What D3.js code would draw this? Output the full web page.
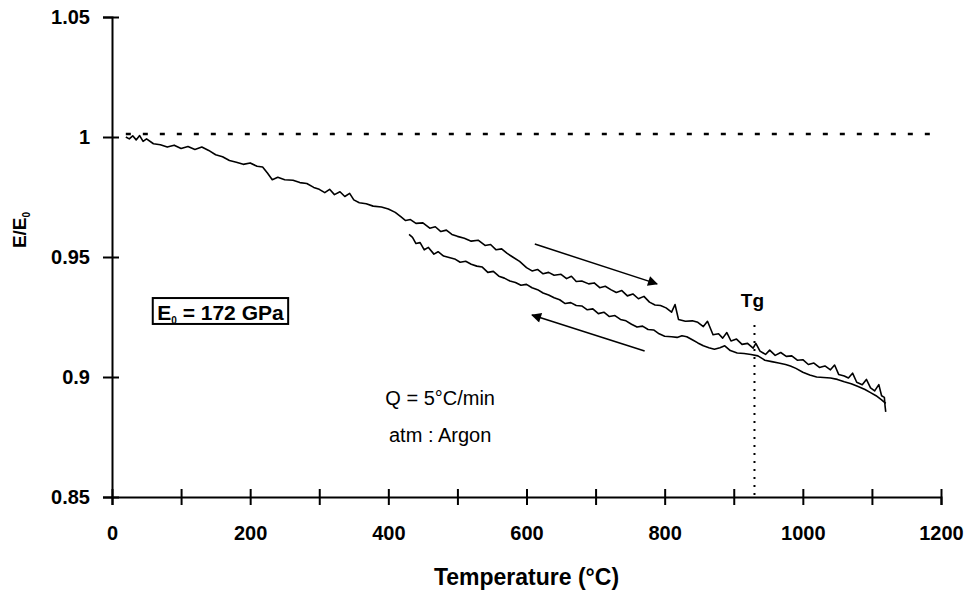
<!doctype html>
<html>

<head>
  <meta charset="utf-8">
  <title>E/E0 vs temperature</title>
  <style>
    body { margin: 0; background: #fff; }
    text { font-family: "Liberation Sans", Arial, sans-serif; }
  </style>
</head>

<body>
  <svg width="974" height="591"></svg>

  <script src="https://d3js.org/d3.v7.min.js"></script>
  <script>
    // heating run (T in °C, E/E0)
    const heating = [
      [20, 1.0000], [25, 0.9992], [30, 1.0005], [35, 0.9988], [40, 1.0006], [45, 0.9982], [50, 0.9992],
      [60, 0.9972], [70, 0.9968], [80, 0.9958], [90, 0.9966], [100, 0.9952], [110, 0.9960], [120, 0.9948],
      [130, 0.9958], [140, 0.9944], [150, 0.9926], [160, 0.9918], [170, 0.9902], [180, 0.9895], [190, 0.9886],
      [200, 0.9892], [210, 0.9878], [218, 0.9875], [225, 0.9850], [232, 0.9822], [240, 0.9832], [250, 0.9822],
      [262, 0.9820], [272, 0.9810], [282, 0.9806], [292, 0.9790], [300, 0.9782], [308, 0.9768], [315, 0.9782],
      [322, 0.9760], [330, 0.9772], [337, 0.9752], [344, 0.9765], [350, 0.9738], [358, 0.9726], [368, 0.9722],
      [378, 0.9712], [390, 0.9708], [400, 0.9700], [410, 0.9686], [418, 0.9668], [425, 0.9652], [432, 0.9656],
      [440, 0.9640], [450, 0.9642], [460, 0.9620], [468, 0.9626], [476, 0.9606], [484, 0.9612], [492, 0.9594],
      [500, 0.9586], [510, 0.9578], [520, 0.9566], [530, 0.9570], [540, 0.9548], [548, 0.9552], [556, 0.9530],
      [564, 0.9534], [572, 0.9515], [580, 0.9500], [590, 0.9482], [600, 0.9456], [608, 0.9442], [616, 0.9448],
      [624, 0.9430], [632, 0.9436], [640, 0.9424], [650, 0.9428], [658, 0.9410], [665, 0.9420], [672, 0.9398],
      [680, 0.9400], [690, 0.9388], [698, 0.9392], [706, 0.9372], [714, 0.9378], [722, 0.9364], [730, 0.9352],
      [738, 0.9360], [746, 0.9338], [754, 0.9346], [762, 0.9326], [770, 0.9336], [778, 0.9312], [786, 0.9300],
      [794, 0.9298], [802, 0.9288], [810, 0.9270], [815, 0.9302], [820, 0.9240], [830, 0.9232], [840, 0.9234],
      [848, 0.9228], [856, 0.9210], [862, 0.9232], [870, 0.9176], [878, 0.9180], [884, 0.9162], [890, 0.9185],
      [896, 0.9150], [904, 0.9158], [912, 0.9136], [920, 0.9140], [928, 0.9120], [932, 0.9140], [938, 0.9108],
      [946, 0.9094], [952, 0.9112], [960, 0.9090], [968, 0.9102], [976, 0.9086], [984, 0.9088], [992, 0.9070],
      [1000, 0.9072], [1008, 0.9052], [1016, 0.9058], [1024, 0.9040], [1032, 0.9046], [1040, 0.9030],
      [1046, 0.9050], [1052, 0.9010], [1060, 0.9004], [1066, 0.8996], [1072, 0.9016], [1078, 0.8978],
      [1086, 0.8968], [1092, 0.8990], [1098, 0.8955], [1104, 0.8942], [1110, 0.8968], [1114, 0.8922],
      [1118, 0.8915], [1119, 0.8880], [1120, 0.8855]
    ];

    // cooling run
    const cooling = [
      [1120, 0.8890], [1114, 0.8905], [1106, 0.8922], [1098, 0.8935], [1090, 0.8948], [1080, 0.8960],
      [1070, 0.8972], [1060, 0.8980], [1050, 0.8990], [1040, 0.8996], [1030, 0.8998], [1020, 0.9000],
      [1010, 0.9008], [1000, 0.9020], [990, 0.9036], [982, 0.9046], [975, 0.9052], [965, 0.9058],
      [955, 0.9064], [945, 0.9070], [935, 0.9088], [925, 0.9094], [915, 0.9098], [905, 0.9100],
      [895, 0.9110], [887, 0.9130], [880, 0.9122], [872, 0.9116], [864, 0.9122], [856, 0.9130],
      [848, 0.9142], [840, 0.9155], [832, 0.9168], [825, 0.9172], [818, 0.9165], [810, 0.9168],
      [800, 0.9170], [792, 0.9180], [784, 0.9196], [776, 0.9198], [768, 0.9212], [760, 0.9208],
      [752, 0.9220], [744, 0.9234], [736, 0.9240], [728, 0.9256], [720, 0.9252], [712, 0.9270],
      [704, 0.9264], [696, 0.9284], [688, 0.9280], [680, 0.9296], [672, 0.9298], [664, 0.9310],
      [656, 0.9306], [648, 0.9322], [640, 0.9330], [632, 0.9342], [624, 0.9350], [616, 0.9364],
      [608, 0.9372], [600, 0.9386], [592, 0.9382], [584, 0.9394], [576, 0.9400], [568, 0.9412],
      [560, 0.9420], [552, 0.9440], [544, 0.9436], [536, 0.9458], [528, 0.9462], [520, 0.9470],
      [512, 0.9482], [504, 0.9478], [496, 0.9492], [488, 0.9498], [480, 0.9504], [472, 0.9522],
      [466, 0.9512], [458, 0.9540], [452, 0.9530], [446, 0.9560], [440, 0.9556], [435, 0.9582],
      [430, 0.9594]
    ];

    // reference line E/E0 = 1 and glass transition
    const refLine = [[20, 1.0013], [1185, 1.0013]];
    const tg = 930;
    const tgTop = 0.9217;

    // direction arrows [from, to]
    const arrows = [
      [[612, 0.9554], [789, 0.9388]],
      [[771, 0.9108], [608, 0.9258]]
    ];

    const xTicks = [0, 100, 200, 300, 400, 500, 600, 700, 800, 900, 1000, 1100, 1200];
    const yTicks = [0.85, 0.9, 0.95, 1, 1.05];

    const svg = d3.select('svg');
    const margin = { top: 17, left: 112, bottom: 94, right: 33 };
    const width = +svg.attr('width') - margin.left - margin.right;
    const height = +svg.attr('height') - margin.top - margin.bottom;
    const g = svg.append('g').attr('transform', `translate(${margin.left}, ${margin.top})`);

    const x = d3.scaleLinear().domain([0, 1200]).range([0, width]);
    const y = d3.scaleLinear().domain([0.85, 1.05]).range([height, 0]);

    const line = d3.line()
      .x(d => x(d[0]))
      .y(d => y(d[1]));

    // arrow head
    svg.append('defs').append('marker')
      .attr('id', 'head')
      .attr('viewBox', '0 0 10 10')
      .attr('refX', 9)
      .attr('refY', 5)
      .attr('markerWidth', 14)
      .attr('markerHeight', 10)
      .attr('markerUnits', 'userSpaceOnUse')
      .attr('orient', 'auto')
      .append('path')
      .attr('d', 'M0,0L10,5L0,10z')
      .attr('fill', '#000');

    // x axis
    const xAxis = g.append('g')
      .attr('transform', `translate(0, ${height})`)
      .call(d3.axisBottom(x)
        .tickValues(xTicks)
        .tickSize(8)
        .tickPadding(21)
        .tickFormat(d => d % 200 === 0 ? d : ''));
    xAxis.selectAll('.tick line').attr('y1', -8);

    // y axis
    const yAxis = g.append('g')
      .call(d3.axisLeft(y)
        .tickValues(yTicks)
        .tickSize(9)
        .tickPadding(13)
        .tickFormat(d => String(d)));
    yAxis.selectAll('.tick line').attr('x2', 7).attr('x1', -9);

    g.selectAll('.domain').attr('stroke-width', 2);
    g.selectAll('.tick line').attr('stroke-width', 2);
    g.selectAll('.tick text')
      .attr('font-size', 20)
      .attr('font-weight', 'bold')
      .attr('fill', '#000')
      .style('font-family', '"Liberation Sans", Arial, sans-serif');

    // dashed reference
    g.append('path')
      .datum(refLine)
      .attr('fill', 'none')
      .attr('stroke', '#000')
      .attr('stroke-width', 2.5)
      .attr('stroke-dasharray', '5 12')
      .attr('d', line);

    // Tg marker
    g.append('line')
      .attr('x1', x(tg)).attr('x2', x(tg))
      .attr('y1', y(tgTop)).attr('y2', y(0.85))
      .attr('stroke', '#000')
      .attr('stroke-width', 2)
      .attr('stroke-dasharray', '2 6');

    g.append('text')
      .attr('x', x(tg) - 2)
      .attr('y', y(tgTop) - 18)
      .attr('text-anchor', 'middle')
      .attr('font-size', 19)
      .attr('font-weight', 'bold')
      .text('Tg');

    // curves
    [heating, cooling].forEach(data => {
      g.append('path')
        .datum(data)
        .attr('fill', 'none')
        .attr('stroke', '#000')
        .attr('stroke-width', 1.6)
        .attr('stroke-linejoin', 'round')
        .attr('d', line);
    });

    // arrows
    arrows.forEach(a => {
      g.append('path')
        .datum(a)
        .attr('fill', 'none')
        .attr('stroke', '#000')
        .attr('stroke-width', 1.5)
        .attr('marker-end', 'url(#head)')
        .attr('d', line);
    });

    // E0 box
    const box = g.append('g').attr('transform', `translate(${x(59)}, ${y(0.9329)})`);
    box.append('rect')
      .attr('width', x(255) - x(59))
      .attr('height', y(0.9221) - y(0.9329))
      .attr('fill', '#fff')
      .attr('stroke', '#000')
      .attr('stroke-width', 2);
    const boxText = box.append('text')
      .attr('x', (x(255) - x(59)) / 2)
      .attr('y', 22)
      .attr('text-anchor', 'middle')
      .attr('font-size', 21)
      .attr('font-weight', 'bold');
    boxText.append('tspan').text('E');
    boxText.append('tspan').attr('font-size', 10).attr('dy', 4).text('0');
    boxText.append('tspan').attr('dy', -4).text(' = 172 GPa');

    // conditions
    g.append('text')
      .attr('x', x(475))
      .attr('y', y(0.8885))
      .attr('text-anchor', 'middle')
      .attr('font-size', 20)
      .text('Q = 5°C/min');
    g.append('text')
      .attr('x', x(475))
      .attr('y', y(0.873))
      .attr('text-anchor', 'middle')
      .attr('font-size', 20)
      .text('atm : Argon');

    // axis titles
    svg.append('text')
      .attr('x', margin.left + x(600))
      .attr('y', 585)
      .attr('text-anchor', 'middle')
      .attr('font-size', 23)
      .attr('font-weight', 'bold')
      .text('Temperature (°C)');

    const yTitle = svg.append('text')
      .attr('transform', 'translate(26, 230) rotate(-90)')
      .attr('text-anchor', 'middle')
      .attr('font-size', 19)
      .attr('font-weight', 'bold');
    yTitle.append('tspan').text('E/E');
    yTitle.append('tspan').attr('font-size', 10).attr('dy', 4).text('0');
  </script>
</body>

</html>
